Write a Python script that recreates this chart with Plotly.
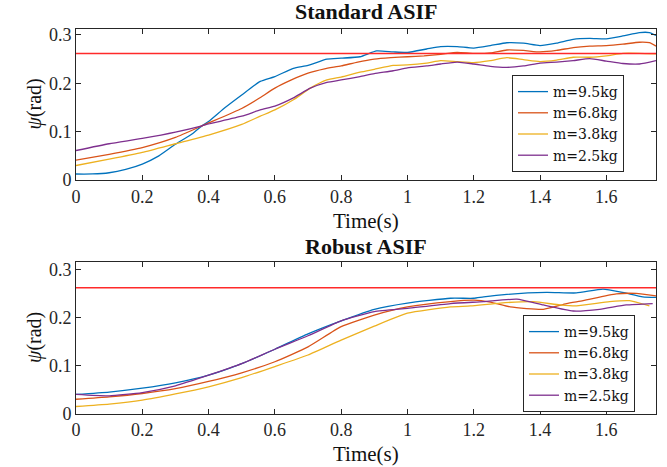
import plotly.graph_objects as go
import math

# ---------------- data ----------------
series_names = ["m=9.5kg", "m=6.8kg", "m=3.8kg", "m=2.5kg"]
series_colors = ["#0072BD", "#D95319", "#EDB120", "#7E2F8E"]
limit_value = math.pi / 12  # 15 degrees, red bound

# Standard ASIF
std_t_95 = [0, 0.05, 0.1, 0.15, 0.2, 0.25, 0.3, 0.35, 0.38, 0.4, 0.45, 0.5, 0.556, 0.6, 0.656, 0.7,
            0.757, 0.8, 0.857, 0.907, 0.957, 1.0, 1.058, 1.1, 1.15, 1.2, 1.25, 1.3, 1.35, 1.4, 1.45,
            1.5, 1.55, 1.6, 1.65, 1.7, 1.73, 1.75]
std_v_95 = [0.0124, 0.0125, 0.015, 0.022, 0.033, 0.050, 0.074, 0.095, 0.112, 0.121, 0.150, 0.176,
            0.204, 0.214, 0.231, 0.237, 0.250, 0.252, 0.255, 0.267, 0.265, 0.264, 0.271, 0.276,
            0.276, 0.273, 0.278, 0.284, 0.283, 0.278, 0.283, 0.291, 0.293, 0.292, 0.298, 0.305,
            0.305, 0.299]

std_t_68 = [0, 0.1, 0.2, 0.3, 0.38, 0.4, 0.5, 0.55, 0.6, 0.65, 0.7, 0.75, 0.8, 0.85, 0.9, 0.95,
            1.0, 1.05, 1.1, 1.15, 1.2, 1.25, 1.3, 1.35, 1.4, 1.45, 1.5, 1.55, 1.6, 1.65, 1.7,
            1.73, 1.75]
std_v_68 = [0.041, 0.053, 0.067, 0.088, 0.112, 0.118, 0.148, 0.168, 0.190, 0.207, 0.221, 0.230,
            0.236, 0.244, 0.250, 0.253, 0.255, 0.257, 0.260, 0.264, 0.262, 0.263, 0.269, 0.268,
            0.265, 0.268, 0.274, 0.277, 0.278, 0.281, 0.285, 0.284, 0.277]

std_t_38 = [0, 0.1, 0.2, 0.3, 0.4, 0.5, 0.556, 0.6, 0.656, 0.707, 0.757, 0.8, 0.857, 0.9, 0.957,
            1.0, 1.058, 1.1, 1.15, 1.2, 1.25, 1.3, 1.35, 1.4, 1.45, 1.5, 1.55, 1.6, 1.65, 1.7, 1.75]
std_v_38 = [0.030, 0.043, 0.057, 0.075, 0.093, 0.115, 0.132, 0.145, 0.166, 0.190, 0.207, 0.213,
            0.223, 0.229, 0.237, 0.238, 0.242, 0.247, 0.245, 0.243, 0.247, 0.253, 0.249, 0.245,
            0.248, 0.254, 0.254, 0.257, 0.262, 0.262, 0.261]

std_t_25 = [0, 0.1, 0.2, 0.3, 0.38, 0.4, 0.5, 0.556, 0.6, 0.656, 0.707, 0.757, 0.8, 0.857, 0.9,
            0.957, 1.0, 1.058, 1.1, 1.15, 1.2, 1.25, 1.3, 1.35, 1.4, 1.45, 1.5, 1.55, 1.6, 1.65,
            1.7, 1.75]
std_v_25 = [0.061, 0.075, 0.086, 0.099, 0.112, 0.116, 0.132, 0.145, 0.153, 0.170, 0.190, 0.202,
            0.207, 0.214, 0.220, 0.226, 0.232, 0.236, 0.240, 0.244, 0.240, 0.235, 0.233, 0.236,
            0.242, 0.244, 0.247, 0.251, 0.246, 0.241, 0.240, 0.247]

# Robust ASIF
rob_t_95 = [0, 0.1, 0.2, 0.3, 0.4, 0.5, 0.6, 0.7, 0.8, 0.9, 1.0, 1.13, 1.2, 1.23, 1.3, 1.42,
            1.51, 1.59, 1.65, 1.71, 1.75]
rob_v_95 = [0.040, 0.045, 0.053, 0.064, 0.080, 0.104, 0.134, 0.166, 0.193, 0.217, 0.230, 0.240,
            0.240, 0.243, 0.248, 0.252, 0.251, 0.259, 0.252, 0.243, 0.242]

rob_t_68 = [0, 0.1, 0.2, 0.3, 0.4, 0.5, 0.6, 0.7, 0.8, 0.9, 1.0, 1.13, 1.2, 1.25, 1.31, 1.41,
            1.48, 1.53, 1.63, 1.69, 1.75]
rob_v_68 = [0.030, 0.035, 0.042, 0.052, 0.067, 0.085, 0.108, 0.139, 0.181, 0.205, 0.222, 0.233,
            0.236, 0.232, 0.222, 0.217, 0.229, 0.235, 0.249, 0.250, 0.245]

rob_t_38 = [0, 0.1, 0.2, 0.3, 0.4, 0.5, 0.6, 0.7, 0.8, 0.9, 1.0, 1.13, 1.19, 1.28, 1.38, 1.46,
            1.51, 1.61, 1.67, 1.73]
rob_v_38 = [0.015, 0.020, 0.028, 0.041, 0.056, 0.075, 0.098, 0.122, 0.153, 0.182, 0.209, 0.222,
            0.224, 0.230, 0.233, 0.226, 0.224, 0.233, 0.235, 0.224]

rob_t_25 = [0, 0.1, 0.2, 0.3, 0.4, 0.5, 0.6, 0.7, 0.8, 0.9, 1.0, 1.13, 1.23, 1.33, 1.41, 1.50,
            1.58, 1.66, 1.74]
rob_v_25 = [0.040, 0.037, 0.044, 0.058, 0.080, 0.104, 0.134, 0.162, 0.193, 0.212, 0.219, 0.229,
            0.233, 0.238, 0.226, 0.2135, 0.217, 0.226, 0.229]

x_tick_vals = [0, 0.2, 0.4, 0.6, 0.8, 1.0, 1.2, 1.4, 1.6]
x_tick_text = ["0", "0.2", "0.4", "0.6", "0.8", "1", "1.2", "1.4", "1.6"]
y_tick_vals = [0, 0.1, 0.2, 0.3]
y_tick_text = ["0", "0.1", "0.2", "0.3"]

titles = ["Standard ASIF", "Robust ASIF"]

# ---------------- figure ----------------
W, H = 667, 467
FONT = "Liberation Serif"
AX = "#262626"

fig = go.Figure()

std_sets = [(std_t_95, std_v_95), (std_t_68, std_v_68), (std_t_38, std_v_38), (std_t_25, std_v_25)]
rob_sets = [(rob_t_95, rob_v_95), (rob_t_68, rob_v_68), (rob_t_38, rob_v_38), (rob_t_25, rob_v_25)]

for (t, v), name, col in zip(std_sets, series_names, series_colors):
    fig.add_trace(go.Scatter(x=t, y=v, mode="lines", name=name,
                             line=dict(color=col, width=1.3, shape="spline", smoothing=0.5),
                             xaxis="x", yaxis="y", legend="legend"))
fig.add_trace(go.Scatter(x=[0, 1.75], y=[limit_value, limit_value], mode="lines", showlegend=False,
                         line=dict(color="#FF2A2A", width=1.5), xaxis="x", yaxis="y"))

for (t, v), name, col in zip(rob_sets, series_names, series_colors):
    fig.add_trace(go.Scatter(x=t, y=v, mode="lines", name=name,
                             line=dict(color=col, width=1.3, shape="spline", smoothing=0.5),
                             xaxis="x2", yaxis="y2", legend="legend2"))
fig.add_trace(go.Scatter(x=[0, 1.75], y=[limit_value, limit_value], mode="lines", showlegend=False,
                         line=dict(color="#FF2A2A", width=1.5), xaxis="x2", yaxis="y2"))

x0, x1 = 76 / W, 656 / W
top_dom = [(H - 180) / H, (H - 29) / H]
bot_dom = [(H - 413.7) / H, (H - 262.3) / H]

axis_common = dict(showline=True, linecolor=AX, linewidth=1, mirror="ticks", ticks="inside",
                   ticklen=5, tickcolor=AX, tickwidth=1, showgrid=False, zeroline=False,
                   automargin=False, tickfont=dict(family=FONT, size=18, color=AX))

LEG_FONT = dict(family="DejaVu Serif", size=14, color="#111111")

fig.update_layout(
    template="none",
    width=W, height=H, margin=dict(l=0, r=0, t=0, b=0, autoexpand=False),
    paper_bgcolor="white", plot_bgcolor="white",
    font=dict(family=FONT, color=AX),
    xaxis=dict(domain=[x0, x1], range=[0, 1.75], anchor="y", tickvals=x_tick_vals, ticktext=x_tick_text, **axis_common),
    yaxis=dict(domain=top_dom, range=[0, 0.3124], anchor="x", tickvals=y_tick_vals, ticktext=y_tick_text, **axis_common),
    xaxis2=dict(domain=[x0, x1], range=[0, 1.75], anchor="y2", tickvals=x_tick_vals, ticktext=x_tick_text, **axis_common),
    yaxis2=dict(domain=bot_dom, range=[0, 0.3147], anchor="x2", tickvals=y_tick_vals, ticktext=y_tick_text, **axis_common),
    legend=dict(x=512 / W, y=(H - 75) / H, xanchor="left", yanchor="top", bgcolor="white",
                bordercolor=AX, borderwidth=1, font=LEG_FONT, tracegroupgap=0),
    legend2=dict(x=523 / W, y=(H - 315) / H, xanchor="left", yanchor="top", bgcolor="white",
                 bordercolor=AX, borderwidth=1, font=LEG_FONT, tracegroupgap=0),
)

cx = (76 + 656) / 2 / W
annots = [
    dict(text="<b>" + titles[0] + "</b>", x=cx, y=(H - 12) / H, size=22),
    dict(text="<b>" + titles[1] + "</b>", x=cx, y=(H - 246) / H, size=22),
    dict(text="Time(s)", x=cx, y=(H - 221) / H, size=21),
    dict(text="Time(s)", x=cx, y=(H - 454) / H, size=21),
    dict(text="<i>ψ</i>(rad)", x=34 / W, y=(H - 104.5) / H, size=20, textangle=-90),
    dict(text="<i>ψ</i>(rad)", x=34 / W, y=(H - 338) / H, size=20, textangle=-90),
]
for a in annots:
    size = a.pop("size")
    fig.add_annotation(xref="paper", yref="paper", showarrow=False, xanchor="center", yanchor="middle",
                       font=dict(family=FONT, size=size, color="#111111"), **a)

fig.write_html("out.html", config={"displayModeBar": False},
               post_script="document.body.style.margin='0';document.body.style.padding='0';")
